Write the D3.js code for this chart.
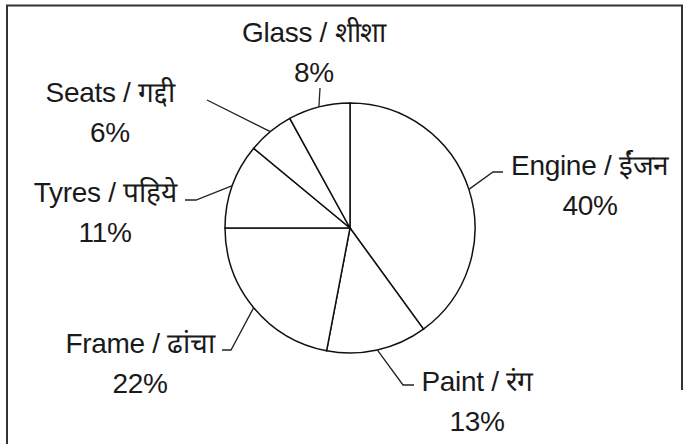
<!DOCTYPE html>
<html>
<head>
<meta charset="utf-8">
<script src="https://cdn.jsdelivr.net/npm/d3@7"></script>
<style>
  body { margin: 0; background: #fff; }
  svg text { font-family: "Liberation Sans", Arial, sans-serif; fill: #1a1a1a; }
</style>
</head>
<body>
<svg id="pie"></svg>
<script>
// data
const parts = ["Engine / ईंजन", "Paint / रंग", "Frame / ढांचा", "Tyres / पहिये", "Seats / गद्दी", "Glass / शीशा"];
const shares = [40, 13, 22, 11, 6, 8];

// where each label sits and the bend of its leader line (layout only)
const labelPos = [[590, 175], [477, 391], [140, 353], [105, 202], [110, 102], [314, 42]];
const bendPos = [[493, 172], [403, 385], [231, 350], [196, 200], [207, 100], [320, 88]];
const endPos = [[503, 172], [414, 385], [222, 350], [185, 200], null, null];

function drawPie() {
    const svgWidth = 690, svgHeight = 444;
    const cx = 350, cy = 228, r = 125;

    const svg = d3.select("#pie")
        .attr("width", svgWidth)
        .attr("height", svgHeight);

    // frame round the chart
    svg.append("path")
        .attr("d", `M7,444 V5.5 H682 V390`)
        .attr("fill", "none")
        .attr("stroke", "#333")
        .attr("stroke-width", 2);

    const pie = d3.pie().sort(null).value(d => d);
    const arcs = pie(shares);
    const arc = d3.arc().innerRadius(0).outerRadius(r);
    const rim = d3.arc().innerRadius(r).outerRadius(r);

    const g = svg.append("g").attr("transform", `translate(${cx}, ${cy})`);

    g.selectAll("path.slice")
        .data(arcs)
        .join("path")
        .attr("class", "slice")
        .attr("d", arc)
        .attr("fill", "#fff")
        .attr("stroke", "#111")
        .attr("stroke-width", 1.5);

    // leader lines from the rim to the labels
    arcs.forEach((a, i) => {
        const [px, py] = rim.centroid(a);
        const pts = [[cx + px, cy + py], bendPos[i]];
        if (endPos[i]) pts.push(endPos[i]);
        svg.append("path")
            .attr("d", d3.line()(pts))
            .attr("fill", "none")
            .attr("stroke", "#222")
            .attr("stroke-width", 1.3);
    });

    // labels: name on one line, share underneath
    const labels = svg.selectAll("text.lab")
        .data(arcs)
        .join("text")
        .attr("class", "lab")
        .attr("text-anchor", "middle")
        .style("font-size", "28px")
        .style("letter-spacing", "-0.3px");

    labels.append("tspan")
        .attr("x", (d, i) => labelPos[i][0])
        .attr("y", (d, i) => labelPos[i][1])
        .text((d, i) => parts[i]);

    labels.append("tspan")
        .attr("x", (d, i) => labelPos[i][0])
        .attr("dy", 40)
        .text(d => d.data + "%");
}

drawPie();
</script>
</body>
</html>
